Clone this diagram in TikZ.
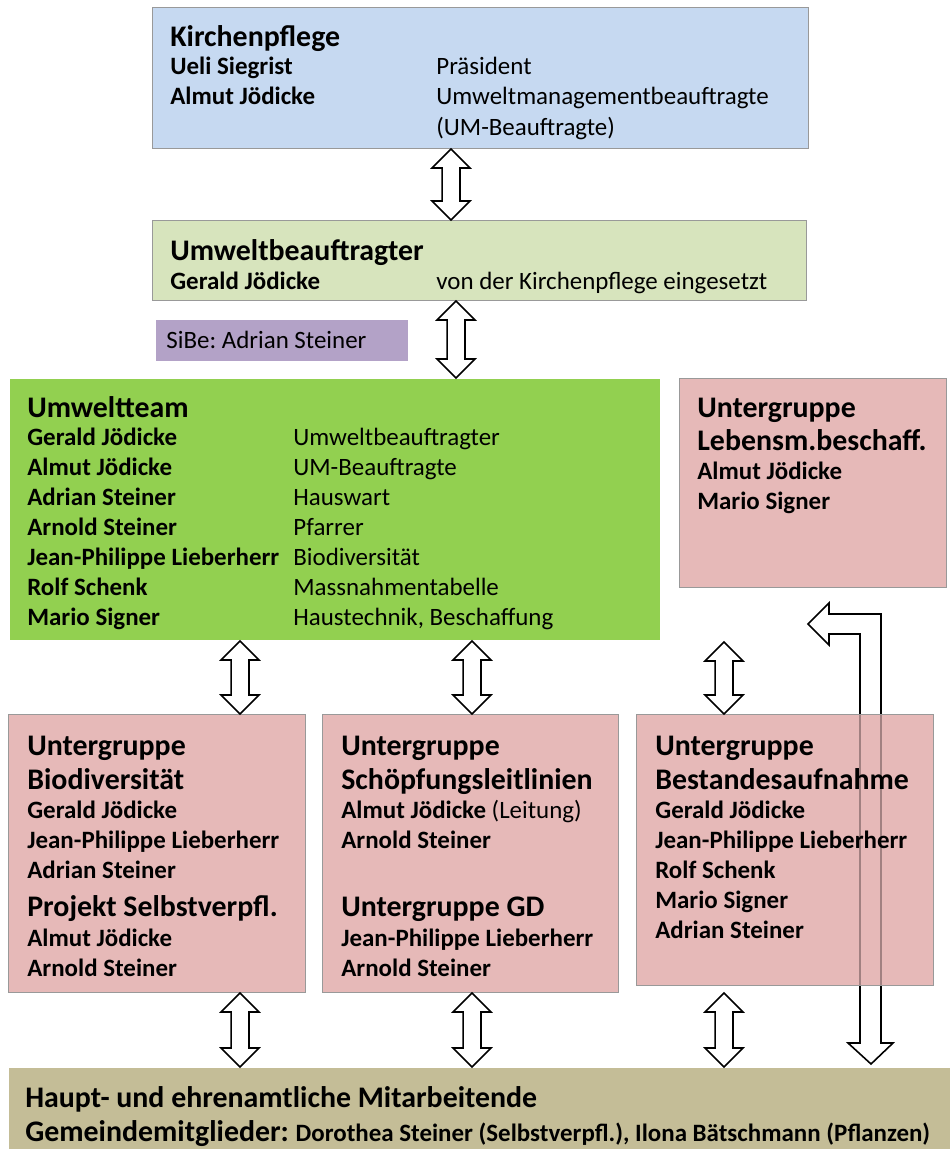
\documentclass[tikz,border=0pt]{standalone}
\usepackage{fontspec}
\setmainfont{Carlito}
\usetikzlibrary{calc}
\frenchspacing
\definecolor{kpblue}{HTML}{C6D9F1}
\definecolor{ubgreen}{HTML}{D7E4BD}
\definecolor{sibelila}{HTML}{B3A2C7}
\definecolor{utgreen}{HTML}{92D050}
\definecolor{ugpink}{HTML}{E6B9B8}
\definecolor{hmtan}{HTML}{C4BD97}
\newcommand\hdfont{\fontsize{17}{20}\selectfont\bfseries}
\newcommand\nmfont{\fontsize{14.2}{17}\selectfont\bfseries}
\newcommand\rlfont{\fontsize{14.2}{17}\selectfont}
% hollow double arrow from (#1) down to (#2)
\newcommand\dblarrow[2]{%
  \draw[dbl] let \p1=(#1), \p2=(#2) in
    (\x1,\y1) -- (\x1+10.8pt,\y1-10.8pt) -- (\x1+5.1pt,\y1-10.8pt)
    -- (\x1+5.1pt,\y2+10.8pt) -- (\x1+10.8pt,\y2+10.8pt) -- (\x1,\y2)
    -- (\x1-10.8pt,\y2+10.8pt) -- (\x1-5.1pt,\y2+10.8pt)
    -- (\x1-5.1pt,\y1-10.8pt) -- (\x1-10.8pt,\y1-10.8pt) -- cycle;}
\tikzset{
  box/.style={draw=black!40, line width=0.6pt, anchor=north west, inner sep=0pt},
  hd/.style={anchor=base west, inner sep=0pt, font=\hdfont},
  nm/.style={anchor=base west, inner sep=0pt, font=\nmfont},
  rl/.style={anchor=base west, inner sep=0pt, font=\rlfont},
  dbl/.style={draw=black, line width=0.9pt, fill=white, line join=miter},
  bent/.style={draw=black, line width=0.9pt, line join=miter}
}

\begin{document}
\begin{tikzpicture}[x=0.02cm,y=-0.02cm]
	\useasboundingbox (0,0) rectangle (950,1149);

	% boxes
	\node[box, fill=kpblue, minimum width=13.12cm, minimum height=2.82cm] (kp) at (152,7) {};
	\node[box, fill=ubgreen, minimum width=13.08cm, minimum height=1.6cm] (ub) at (152,220) {};
	\node[box, draw=none, fill=sibelila, minimum width=5.06cm, minimum height=0.82cm] (sibe) at (155,319) {};
	\node[box, draw=none, fill=utgreen, minimum width=13.02cm, minimum height=5.24cm] (ut) at (9,378) {};
	\node[box, fill=ugpink, minimum width=5.34cm, minimum height=4.18cm] (lm) at (679,378) {};
	\node[box, fill=ugpink, minimum width=5.94cm, minimum height=5.56cm] (bio) at (8,714) {};
	\node[box, fill=ugpink, minimum width=5.92cm, minimum height=5.56cm] (sch) at (322,714) {};
	\node[box, draw=none, fill=hmtan, minimum width=18.84cm, minimum height=1.64cm] (hm) at (8,1067) {};

	% bent arrow, seen through the Bestandesaufnahme box
	\node[box, draw=none, fill=ugpink, minimum width=5.94cm, minimum height=5.42cm] (bst-bg) at (636,714) {};
	\draw[bent] (871,1064) -- (893,1043) -- (881,1043) -- (881,614) -- (829,614)
	  -- (829,603) -- (808,624) -- (829,645) -- (829,634) -- (860,634)
	  -- (860,1043) -- (848,1043) -- cycle;
	\node[box, fill=ugpink, fill opacity=0.7, minimum width=5.94cm, minimum height=5.42cm] (bst) at (636,714) {};

	% Kirchenpflege
	\node[hd] (kp-t) at (170,47) {Kirchenpflege};
	\node[nm] (kp-n1) at (170,75) {Ueli Siegrist};
	\node[rl] (kp-r1) at (436,75) {Präsident};
	\node[nm] (kp-n2) at (170,105) {Almut Jödicke};
	\node[rl] (kp-r2) at (436,105) {Umweltmanagementbeauftragte};
	\node[rl] (kp-r3) at (436,135) {(UM-Beauftragte)};

	% Umweltbeauftragter
	\node[hd] (ub-t) at (170,260) {Umweltbeauftragter};
	\node[nm] (ub-n1) at (170,289) {Gerald Jödicke};
	\node[rl] (ub-r1) at (436,289) {von der Kirchenpflege eingesetzt};
	\node[rl] (sibe-t) at (166,348) {SiBe: Adrian Steiner};

	% Umweltteam
	\node[hd] (ut-t) at (27,417) {Umweltteam};
	\foreach \who/\what [count=\i from 0] in {Gerald Jödicke/Umweltbeauftragter,
	    Almut Jödicke/UM-Beauftragte, Adrian Steiner/Hauswart, Arnold Steiner/Pfarrer,
	    Jean-Philippe Lieberherr/Biodiversität, Rolf Schenk/Massnahmentabelle,
	    Mario Signer/{Haustechnik, Beschaffung}} {
	  \node[nm] (ut-n\i) at (27,445+30*\i) {\who};
	  \node[rl] (ut-r\i) at (293,445+30*\i) {\what};
	}

	% Lebensmittelbeschaffung
	\node[hd] (lm-t1) at (697,417) {Untergruppe};
	\node[hd] (lm-t2) at (697,450) {Lebensm.beschaff.};
	\node[nm] (lm-n1) at (697,479) {Almut Jödicke};
	\node[nm] (lm-n2) at (697,509) {Mario Signer};

	% Biodiversitaet
	\node[hd] (bio-t1) at (27,755) {Untergruppe};
	\node[hd] (bio-t2) at (27,789) {Biodiversität};
	\node[nm] (bio-n1) at (27,818) {Gerald Jödicke};
	\node[nm] (bio-n2) at (27,848) {Jean-Philippe Lieberherr};
	\node[nm] (bio-n3) at (27,878) {Adrian Steiner};
	\node[hd] (bio-t3) at (27,916) {Projekt Selbstverpfl.};
	\node[nm] (bio-n4) at (27,946) {Almut Jödicke};
	\node[nm] (bio-n5) at (27,976) {Arnold Steiner};

	% Schoepfungsleitlinien
	\node[hd] (sch-t1) at (341,755) {Untergruppe};
	\node[hd] (sch-t2) at (341,789) {Schöpfungsleitlinien};
	\node[nm] (sch-n1) at (341,818) {Almut Jödicke \mdseries(Leitung)};
	\node[nm] (sch-n2) at (341,848) {Arnold Steiner};
	\node[hd] (sch-t3) at (341,916) {Untergruppe GD};
	\node[nm] (sch-n3) at (341,946) {Jean-Philippe Lieberherr};
	\node[nm] (sch-n4) at (341,976) {Arnold Steiner};

	% Bestandesaufnahme
	\node[hd] (bst-t1) at (655,755) {Untergruppe};
	\node[hd] (bst-t2) at (655,789) {Bestandesaufnahme};
	\foreach \who [count=\i from 0] in {Gerald Jödicke, Jean-Philippe Lieberherr,
	    Rolf Schenk, Mario Signer, Adrian Steiner}
	  \node[nm] (bst-n\i) at (655,818+30*\i) {\who};

	% Mitarbeitende
	\node[hd] (hm-t1) at (25,1107) {Haupt- und ehrenamtliche Mitarbeitende};
	\node[hd] (hm-t2) at (25,1141) {Gemeindemitglieder: {\nmfont Dorothea Steiner (Selbstverpfl.), Ilona Bätschmann (Pflanzen)}};

	% arrows
	\coordinate (a1) at (451,0);
	\coordinate (a2) at (456,0);
	\coordinate (a3) at (240,0);
	\coordinate (a4) at (472,0);
	\coordinate (a5) at (724,0);
	\coordinate (a5top) at (724,642);
	\coordinate (a5bot) at (724,993);
	\dblarrow{kp.south -| a1}{ub.north -| a1}
	\dblarrow{ub.south -| a2}{ut.north -| a2}
	\dblarrow{ut.south -| a3}{bio.north -| a3}
	\dblarrow{ut.south -| a4}{sch.north -| a4}
	\dblarrow{a5top}{bst.north -| a5}
	\dblarrow{bio.south -| a3}{hm.north -| a3}
	\dblarrow{sch.south -| a4}{hm.north -| a4}
	\dblarrow{a5bot}{hm.north -| a5}
\end{tikzpicture}
\end{document}
